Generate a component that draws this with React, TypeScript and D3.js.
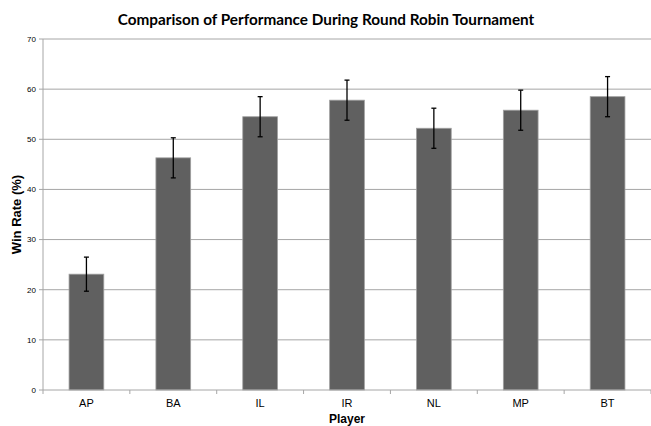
import React from 'react'
import * as d3 from 'd3'

const players = ['AP', 'BA', 'IL', 'IR', 'NL', 'MP', 'BT']
const winRates = [23.1, 46.3, 54.5, 57.8, 52.2, 55.8, 58.5]
const errors = [3.4, 4.0, 4.0, 4.0, 4.0, 4.0, 4.0]
const yTicks = [0, 10, 20, 30, 40, 50, 60, 70]

const width = 651
const height = 426
const margin = { top: 39, right: 0, bottom: 36, left: 43 }

const App: React.FC = () => {
  const x = d3
    .scaleBand<string>()
    .domain(players)
    .range([margin.left, width - margin.right])
    .paddingInner(0.6)
    .paddingOuter(0.3)

  const bandStep = (width - margin.right - margin.left) / players.length

  const y = d3
    .scaleLinear()
    .domain([0, 70])
    .range([height - margin.bottom, margin.top])

  const axisFont = 'Liberation Sans'
  const y0 = y(0)

  return (
    <svg
      width={width}
      height={height}
      style={{ position: 'absolute', left: 0, top: 0, background: '#fff' }}
    >
      <text
        x={326}
        y={25}
        textAnchor="middle"
        style={{ fontFamily: 'Lato', fontWeight: 'bold', fontSize: '15.3px' }}
        fill="#000"
      >
        Comparison of Performance During Round Robin Tournament
      </text>

      {yTicks.map((t) => (
        <g key={t}>
          {t > 0 && (
            <line
              x1={margin.left}
              x2={width - margin.right}
              y1={y(t)}
              y2={y(t)}
              stroke="#a6a6a6"
              strokeWidth={1}
            />
          )}
          <line x1={margin.left - 4} x2={margin.left} y1={y(t)} y2={y(t)} stroke="#a6a6a6" />
          <text
            x={margin.left - 7}
            y={y(t)}
            dy="0.35em"
            textAnchor="end"
            style={{ fontFamily: axisFont, fontSize: '8px' }}
            fill="#000"
          >
            {t}
          </text>
        </g>
      ))}

      {players.map((p, i) => (
        <rect
          key={p}
          x={x(p)}
          y={y(winRates[i])}
          width={x.bandwidth()}
          height={y0 - y(winRates[i])}
          fill="#606060"
          stroke="#a0a0a0"
          strokeWidth={0.8}
        />
      ))}

      {players.map((p, i) => {
        const cx = (x(p) || 0) + x.bandwidth() / 2
        const top = y(winRates[i] + errors[i])
        const bot = y(winRates[i] - errors[i])
        return (
          <g key={p} stroke="#000" strokeWidth={1.3}>
            <line x1={cx} x2={cx} y1={top} y2={bot} />
            <line x1={cx - 2.5} x2={cx + 2.5} y1={top} y2={top} />
            <line x1={cx - 2.5} x2={cx + 2.5} y1={bot} y2={bot} />
          </g>
        )
      })}

      <line x1={margin.left} x2={margin.left} y1={margin.top} y2={y0} stroke="#a6a6a6" />
      <line x1={margin.left} x2={width - margin.right} y1={y0} y2={y0} stroke="#a6a6a6" />
      {d3.range(players.length + 1).map((i) => (
        <line
          key={i}
          x1={margin.left + i * bandStep}
          x2={margin.left + i * bandStep}
          y1={y0}
          y2={y0 + 4}
          stroke="#a6a6a6"
        />
      ))}

      {players.map((p) => (
        <text
          key={p}
          x={(x(p) || 0) + x.bandwidth() / 2}
          y={y0 + 17}
          textAnchor="middle"
          style={{ fontFamily: axisFont, fontSize: '11px' }}
          fill="#000"
        >
          {p}
        </text>
      ))}

      <text
        x={(margin.left + width) / 2}
        y={y0 + 33}
        textAnchor="middle"
        style={{ fontFamily: axisFont, fontWeight: 'bold', fontSize: '12px' }}
        fill="#000"
      >
        Player
      </text>
      <text
        transform={`translate(21,${(margin.top + y0) / 2}) rotate(-90)`}
        textAnchor="middle"
        style={{ fontFamily: axisFont, fontWeight: 'bold', fontSize: '13px' }}
        fill="#000"
      >
        Win Rate (%)
      </text>
    </svg>
  )
}

export default App
